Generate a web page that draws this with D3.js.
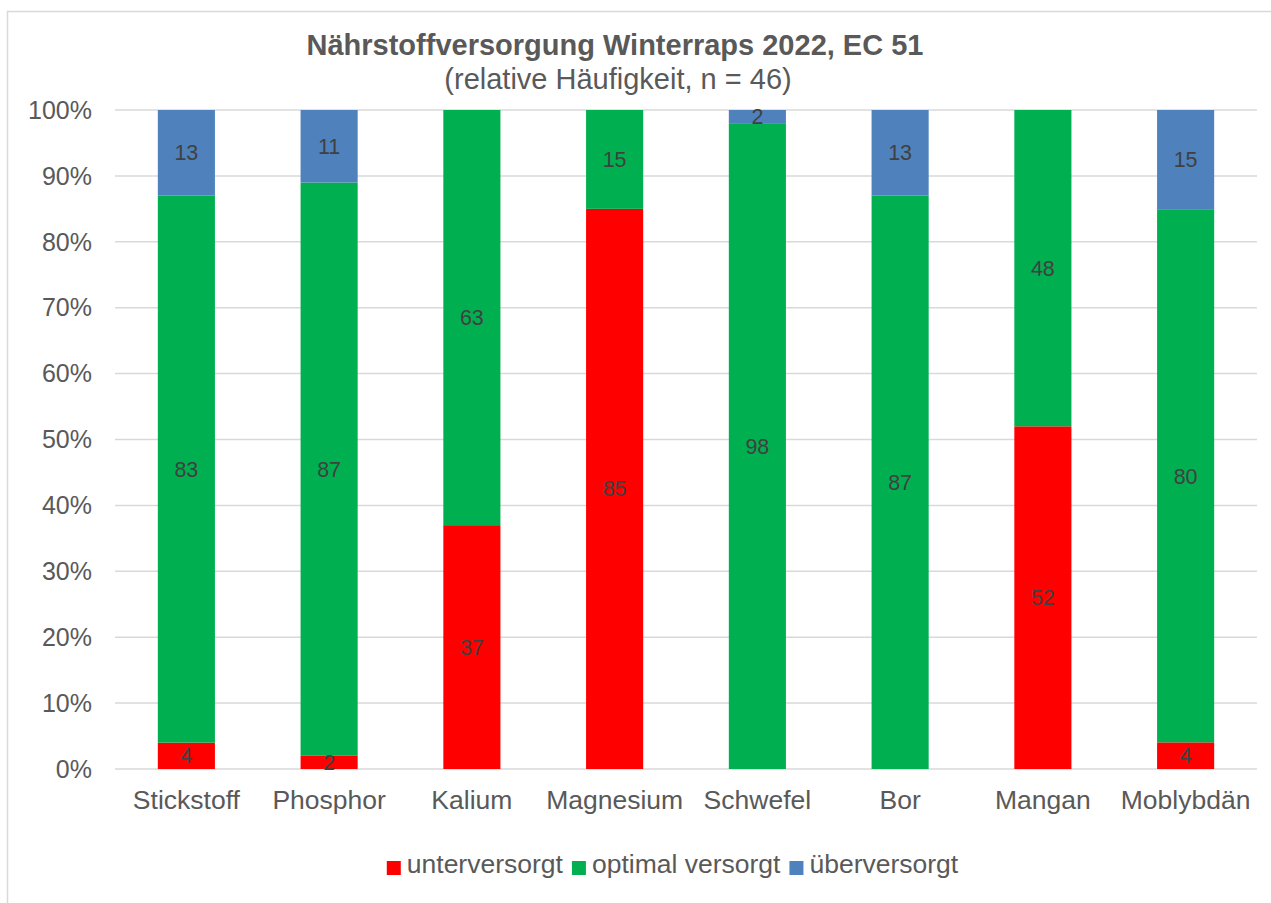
<!DOCTYPE html>
<html>
<head>
<meta charset="utf-8">
<script src="https://cdn.jsdelivr.net/npm/d3@7"></script>
<style>
  body { margin: 0; background: #fff; }
  text { font-family: "Liberation Sans", Arial, sans-serif; }
</style>
</head>
<body>
<svg id="chart"></svg>
<script>
const categories = ["Stickstoff", "Phosphor", "Kalium", "Magnesium", "Schwefel", "Bor", "Mangan", "Moblybdän"];
const seriesNames = ["unterversorgt", "optimal versorgt", "überversorgt"];
const unterversorgt = [4, 2, 37, 85, 0, 0, 52, 4];
const optimal = [83, 87, 63, 15, 98, 87, 48, 80];
const ueberversorgt = [13, 11, 0, 0, 2, 13, 0, 15];
const yTicks = [0, 0.1, 0.2, 0.3, 0.4, 0.5, 0.6, 0.7, 0.8, 0.9, 1];
const colors = ["#FF0000", "#00B050", "#4F81BD"];

const W = 1271, H = 903;
const svg = d3.select("#chart").attr("width", W).attr("height", H);

// chart border (runs past right/bottom edge like the screenshot)
svg.append("rect")
    .attr("x", 7.5).attr("y", 11.5)
    .attr("width", W + 20).attr("height", H + 20)
    .attr("fill", "#fff").attr("stroke", "#D9D9D9").attr("stroke-width", 1.5);

const margin = { top: 110, left: 115, right: 1257, bottom: 769 };

const rows = categories.map((c, i) => {
    const total = unterversorgt[i] + optimal[i] + ueberversorgt[i];
    return { cat: c, vals: [unterversorgt[i], optimal[i], ueberversorgt[i]], total };
});

const x = d3.scaleBand().domain(categories).range([margin.left, margin.right]).paddingInner(0.6).paddingOuter(0.3);
const y = d3.scaleLinear().domain([0, 1]).range([margin.bottom, margin.top]);

// gridlines
svg.append("g").selectAll("line")
    .data(yTicks)
    .enter().append("line")
    .attr("x1", margin.left).attr("x2", margin.right)
    .attr("y1", d => y(d)).attr("y2", d => y(d))
    .attr("stroke", "#D9D9D9").attr("stroke-width", 1.5);

// stacked segments, normalised to 100%
const stack = d3.stack().keys([0, 1, 2]).value((d, k) => d.vals[k] / d.total);
const layers = stack(rows);

const g = svg.append("g");
layers.forEach((layer, k) => {
    g.selectAll(".seg" + k)
        .data(layer.filter(d => d.data.vals[k] > 0))
        .enter().append("rect")
        .attr("x", d => x(d.data.cat))
        .attr("width", x.bandwidth())
        .attr("y", d => y(d[1]))
        .attr("height", d => y(d[0]) - y(d[1]))
        .attr("fill", colors[k]);
});

// data labels
layers.forEach((layer, k) => {
    g.selectAll(".lab" + k)
        .data(layer.filter(d => d.data.vals[k] > 0))
        .enter().append("text")
        .attr("x", d => x(d.data.cat) + x.bandwidth() / 2)
        .attr("y", d => y((d[0] + d[1]) / 2))
        .attr("dy", "0.35em")
        .attr("text-anchor", "middle")
        .style("font-size", "21.5px")
        .attr("fill", "#404040")
        .text(d => d.data.vals[k]);
});

// y axis labels
svg.append("g").selectAll("text")
    .data(yTicks)
    .enter().append("text")
    .attr("x", 92)
    .attr("y", d => y(d))
    .attr("dy", "0.35em")
    .attr("text-anchor", "end")
    .style("font-size", "25px")
    .attr("fill", "#595959")
    .text(d => d3.format(".0%")(d));

// x axis labels
svg.append("g").selectAll("text")
    .data(categories)
    .enter().append("text")
    .attr("x", d => x(d) + x.bandwidth() / 2)
    .attr("y", 809)
    .attr("text-anchor", "middle")
    .style("font-size", "26.5px")
    .attr("fill", "#595959")
    .text(d => d);

// title
svg.append("text")
    .attr("x", 615).attr("y", 55)
    .attr("text-anchor", "middle")
    .style("font-size", "29px").style("font-weight", "bold")
    .attr("fill", "#595959")
    .text("Nährstoffversorgung Winterraps 2022, EC 51");
svg.append("text")
    .attr("x", 618).attr("y", 89)
    .attr("text-anchor", "middle")
    .style("font-size", "29px")
    .attr("fill", "#595959")
    .text("(relative Häufigkeit, n = 46)");

// legend
const legend = svg.append("g");
let lx = 0;
seriesNames.forEach((name, k) => {
    const item = legend.append("g").attr("transform", `translate(${lx},0)`);
    item.append("rect").attr("x", 0).attr("y", -12).attr("width", 14).attr("height", 14).attr("fill", colors[k]);
    const t = item.append("text").attr("x", 20).attr("y", 0)
        .style("font-size", "26.5px").attr("fill", "#595959").text(name);
    lx += 20 + t.node().getComputedTextLength() + 9;
});
const legendW = lx - 9;
legend.attr("transform", `translate(${672.5 - legendW / 2},873)`);
</script>
</body>
</html>
